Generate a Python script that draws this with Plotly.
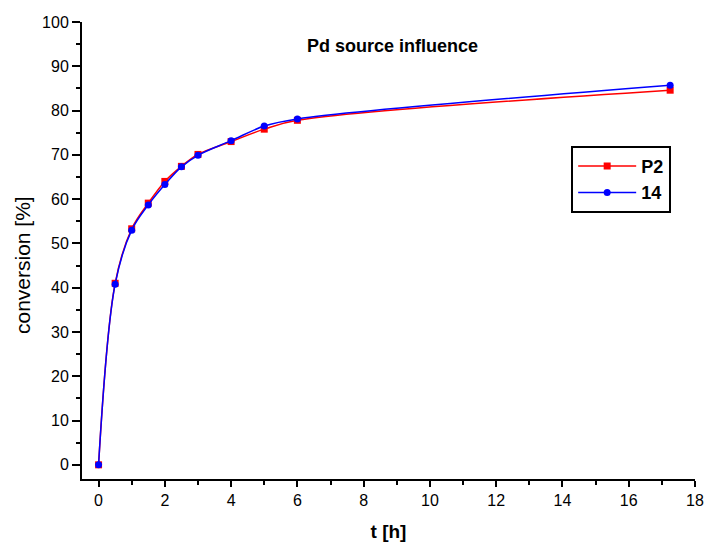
import plotly.graph_objects as go

t_p2 = [0, 0.5, 1, 1.5, 2, 2.5, 3, 4, 5, 6, 17.25]
conv_p2 = [0, 41.0, 53.3, 59.1, 64.0, 67.4, 70.1, 73.0, 75.8, 77.8, 84.6]
t_14 = [0, 0.5, 1, 1.5, 2, 2.5, 3, 4, 5, 6, 17.25]
conv_14 = [0, 40.8, 53.0, 58.7, 63.3, 67.3, 69.9, 73.2, 76.5, 78.1, 85.7]

fig = go.Figure()
fig.add_trace(go.Scatter(x=t_p2, y=conv_p2, name="P2", mode="lines+markers",
                         line=dict(color="#FF0000", width=1.5, shape="spline"),
                         marker=dict(symbol="square", size=7, color="#FF0000")))
fig.add_trace(go.Scatter(x=t_14, y=conv_14, name="14", mode="lines+markers",
                         line=dict(color="#0000FF", width=1.5, shape="spline"),
                         marker=dict(symbol="circle", size=7, color="#0000FF")))

font = "Arial, 'Liberation Sans', sans-serif"
fig.update_layout(
    width=707, height=546,
    margin=dict(l=82, r=12, t=22, b=67),
    plot_bgcolor="white", paper_bgcolor="white",
    font=dict(family=font, color="black", size=16),
    showlegend=True,
    legend=dict(x=0.798, y=0.729, xanchor="left", yanchor="top",
                bordercolor="black", borderwidth=2, bgcolor="white",
                font=dict(size=18, family=font, weight="bold"),
                itemwidth=58, entrywidth=44, entrywidthmode="pixels"),
    annotations=[
        dict(text="<b>Pd source influence</b>", x=0.506, y=0.973,
             xref="paper", yref="paper", showarrow=False,
             yanchor="top", font=dict(size=18, family=font)),
        dict(text="conversion [%]", x=-0.098, y=0.468, xref="paper", yref="paper",
             showarrow=False, textangle=-90, xanchor="center", yanchor="middle",
             font=dict(size=21, family=font)),
    ],
    xaxis=dict(range=[-0.5, 18], tickmode="array", tickvals=list(range(0, 19, 2)),
               automargin=False,
               showgrid=False, zeroline=False, showline=True, linecolor="black", linewidth=2,
               ticks="outside", ticklen=6, tickwidth=2, tickcolor="black",
               tickfont=dict(size=16),
               minor=dict(tickvals=list(range(1, 19, 2)), ticks="outside", ticklen=4, tickwidth=2, tickcolor="black"),
               title=dict(text="<b>t [h]</b>", font=dict(size=19), standoff=16)),
    yaxis=dict(range=[-3.2, 100], tickmode="array", tickvals=list(range(0, 101, 10)),
               automargin=False,
               showgrid=False, zeroline=False, showline=True, linecolor="black", linewidth=2,
               ticks="outside", ticklen=8, tickwidth=2, tickcolor="black",
               tickfont=dict(size=16),
               minor=dict(tickvals=list(range(5, 100, 10)), ticks="outside", ticklen=4, tickwidth=2, tickcolor="black")),
)
fig.write_html("out.html", config={"displayModeBar": False},
               post_script="document.body.style.margin='0';")
